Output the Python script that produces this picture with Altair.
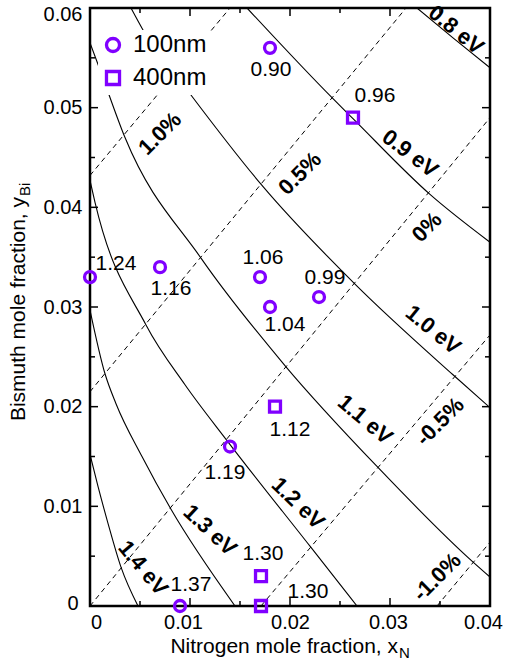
import altair as alt
import pandas as pd

PURPLE = "#8000ff"
FONT = "Liberation Sans"

# ---------------- data ----------------
# 100 nm samples (circles)
x100 = [0.0, 0.007, 0.017, 0.018, 0.0229, 0.018, 0.014, 0.009]
y100 = [0.033, 0.034, 0.033, 0.030, 0.031, 0.056, 0.016, 0.0]
t100 = ["1.24", "1.16", "1.06", "1.04", "0.99", "0.90", "1.19", "1.37"]
# 400 nm samples (squares)
x400 = [0.0263, 0.0185, 0.0171, 0.0171]
y400 = [0.049, 0.020, 0.003, 0.0]
t400 = ["0.96", "1.12", "1.30", "1.30"]

# band-gap contours (solid)
eg_names = ["0.8 eV", "0.9 eV", "1.0 eV", "1.1 eV", "1.2 eV", "1.3 eV", "1.4 eV"]
eg_x = [
    [0.0327, 0.0363, 0.0400],
    [0.0157, 0.0243, 0.0263, 0.0340, 0.0400],
    [0.0041, 0.0053, 0.0100, 0.0172, 0.0266, 0.0363, 0.0400],
    [0.0, 0.0010, 0.0035, 0.0111, 0.0196, 0.0287, 0.0382, 0.0400],
    [0.0, 0.0005, 0.0056, 0.0095, 0.0137, 0.0220, 0.0267],
    [0.0, 0.0015, 0.0026, 0.0052, 0.0081, 0.0145],
    [0.0, 0.0008, 0.0018, 0.0031, 0.0048],
]
eg_y = [
    [0.0600, 0.0570, 0.0540],
    [0.0600, 0.0509, 0.0489, 0.0413, 0.0365],
    [0.0600, 0.0578, 0.0514, 0.0422, 0.0322, 0.0232, 0.0199],
    [0.0565, 0.0538, 0.0470, 0.0349, 0.0240, 0.0140, 0.0045, 0.0029],
    [0.0427, 0.0405, 0.0282, 0.0222, 0.0166, 0.0060, 0.0],
    [0.0297, 0.0233, 0.0203, 0.0150, 0.0097, 0.0],
    [0.0152, 0.0120, 0.0083, 0.0039, 0.0],
]
# band-gap label anchors
eg_lab_x = [0.0366, 0.0320, 0.0343, 0.0275, 0.0208, 0.0120, 0.0053]
eg_lab_y = [0.0578, 0.0454, 0.0277, 0.0187, 0.0103, 0.0076, 0.0038]

# strain lines (dashed): endpoints
st_names = ["1.0%", "0.5%", "0%", "-0.5%", "-1.0%"]
st_x0 = [0.0, 0.0, 0.0, 0.0171, 0.0347]
st_y0 = [0.0432, 0.0215, 0.0, 0.0, 0.0]
st_x1 = [0.0140, 0.0316, 0.0400, 0.0400, 0.0400]
st_y1 = [0.0600, 0.0600, 0.0490, 0.0272, 0.0064]
# strain label anchors
st_lab_x = [0.0070, 0.0210, 0.0337, 0.0350, 0.0347]
st_lab_y = [0.0474, 0.0434, 0.0380, 0.0185, 0.0029]

x_major = [0.0, 0.01, 0.02, 0.03, 0.04]
x_minor = [0.005, 0.015, 0.025, 0.035]
y_major = [0.0, 0.01, 0.02, 0.03, 0.04, 0.05, 0.06]
y_minor = [0.005, 0.015, 0.025, 0.035, 0.045, 0.055]

x_title = "Nitrogen mole fraction, x"
x_sub = "N"
y_title = "Bismuth mole fraction, y"
y_sub = "Bi"

# ---------------- styles ----------------
W, H = 400, 598
# text offsets (dx, dy) for the sample labels
off100 = [(26, -13), (11, 22), (3, -19), (15, 18), (6, -19), (1, 22), (-5, 26), (11, -21)]
off400 = [(22, -22), (15, 23), (2, -22), (47, -14)]
eg_angles = [39, 37, 39, 40, 44, 43, 50]
st_angles = [315, 315, 315, 315, 315]
LBL = 21      # sample label font size
CLBL = 22     # contour label font size

xs = alt.Scale(domain=[0, 0.04], nice=False, zero=False)
ys = alt.Scale(domain=[0, 0.06], nice=False, zero=False)
lab_expr = "datum.value == 0 ? '0' : format(datum.value, '.2f')"
x_label_offset = {
    "condition": [
        {"test": "datum.value == 0", "value": 6},
        {"test": "abs(datum.value - 0.01) < 0.001", "value": -7},
        {"test": "abs(datum.value - 0.03) < 0.001", "value": -2},
        {"test": "abs(datum.value - 0.04) < 0.001", "value": -7},
    ],
    "value": 0,
}
y_label_offset = {
    "condition": [
        {"test": "abs(datum.value - 0.06) < 0.001", "value": 6},
        {"test": "datum.value == 0", "value": -3},
    ],
    "value": 0,
}
y_label_padding = {
    "condition": [{"test": "datum.value == 0", "value": 12}],
    "value": 8,
}
xaxis = alt.Axis(values=x_major, labelExpr=lab_expr, ticks=False, domain=False, grid=False,
                 title=None, labelFontSize=20, labelFont=FONT, labelColor="black", labelPadding=6,
                 labelFlush=False, labelOffset=x_label_offset)
yaxis = alt.Axis(values=y_major, labelExpr=lab_expr, ticks=False, domain=False, grid=False,
                 title=None, labelFontSize=20, labelFont=FONT, labelColor="black",
                 labelPadding=y_label_padding, labelFlush=False, labelOffset=y_label_offset)


def X(f):
    return alt.X(f, type="quantitative", scale=xs, axis=xaxis)


def Y(f):
    return alt.Y(f, type="quantitative", scale=ys, axis=yaxis)


layers = []

# band-gap curves
rows = []
for n, xx, yy in zip(eg_names, eg_x, eg_y):
    for a, b in zip(xx, yy):
        rows.append({"name": n, "x": a, "y": b})
eg_df = pd.DataFrame(rows)
layers.append(
    alt.Chart(eg_df).mark_line(color="black", strokeWidth=1.1, interpolate="monotone", clip=True)
    .encode(x=X("x"), y=Y("y"), detail="name:N")
)

# strain lines
rows = []
for n, a0, b0, a1, b1 in zip(st_names, st_x0, st_y0, st_x1, st_y1):
    rows.append({"name": n, "x": a0, "y": b0})
    rows.append({"name": n, "x": a1, "y": b1})
st_df = pd.DataFrame(rows)
layers.append(
    alt.Chart(st_df).mark_line(color="black", strokeWidth=1, strokeDash=[5, 4], clip=True)
    .encode(x=X("x"), y=Y("y"), detail="name:N")
)

# inward ticks on all four sides
for vals, ln in ((x_major, 8), (x_minor, 5)):
    d = pd.DataFrame({"v": vals})
    layers.append(alt.Chart(d).mark_rule(color="black", strokeWidth=1.5)
                  .encode(x=X("v"), y=alt.value(H), y2=alt.value(H - ln)))
    layers.append(alt.Chart(d).mark_rule(color="black", strokeWidth=1.5)
                  .encode(x=X("v"), y=alt.value(0), y2=alt.value(ln)))
for vals, ln in ((y_major, 8), (y_minor, 5)):
    d = pd.DataFrame({"v": vals})
    layers.append(alt.Chart(d).mark_rule(color="black", strokeWidth=1.5)
                  .encode(y=Y("v"), x=alt.value(0), x2=alt.value(ln)))
    layers.append(alt.Chart(d).mark_rule(color="black", strokeWidth=1.5)
                  .encode(y=Y("v"), x=alt.value(W), x2=alt.value(W - ln)))

# sample points
pts = pd.DataFrame({
    "x": x100 + x400,
    "y": y100 + y400,
    "film": ["100nm"] * len(x100) + ["400nm"] * len(x400),
})
layers.append(
    alt.Chart(pts).mark_point(filled=False, strokeWidth=3.3, size=120, color=PURPLE, opacity=1)
    .encode(
        x=X("x"), y=Y("y"),
        shape=alt.Shape("film:N",
                        scale=alt.Scale(domain=["100nm", "400nm"], range=["circle", "square"]),
                        legend=alt.Legend(orient="none", legendX=8, legendY=22, title=None,
                                          labelFontSize=24, labelFont=FONT, labelColor="black",
                                          symbolSize=170, symbolStrokeWidth=3.3,
                                          symbolStrokeColor=PURPLE, symbolFillColor="transparent",
                                          labelOffset=8, rowPadding=5, padding=3,
                                          fillColor="white")),
    )
)

# sample labels
for xx, yy, tt, offs in ((x100, y100, t100, off100), (x400, y400, t400, off400)):
    for a, b, t, (dx, dy) in zip(xx, yy, tt, offs):
        d = pd.DataFrame({"x": [a], "y": [b], "t": [t]})
        layers.append(
            alt.Chart(d).mark_text(dx=dx, dy=dy, fontSize=LBL, font=FONT, color="black",
                                   align="center", baseline="middle")
            .encode(x=X("x"), y=Y("y"), text="t:N")
        )

# contour labels
for n, a, b, ang in zip(eg_names, eg_lab_x, eg_lab_y, eg_angles):
    d = pd.DataFrame({"x": [a], "y": [b], "t": [n]})
    layers.append(
        alt.Chart(d).mark_text(angle=ang, fontSize=CLBL, fontWeight="bold", font=FONT, color="black",
                               align="center", baseline="middle")
        .encode(x=X("x"), y=Y("y"), text="t:N")
    )
for n, a, b, ang in zip(st_names, st_lab_x, st_lab_y, st_angles):
    d = pd.DataFrame({"x": [a], "y": [b], "t": [n]})
    layers.append(
        alt.Chart(d).mark_text(angle=ang, fontSize=CLBL, fontWeight="bold", font=FONT, color="black",
                               align="center", baseline="middle")
        .encode(x=X("x"), y=Y("y"), text="t:N")
    )

# axis titles with subscripts
layers.append(
    alt.Chart(pd.DataFrame({"t": [x_title]})).mark_text(fontSize=21, font=FONT, color="black",
                                                         align="right", baseline="alphabetic")
    .encode(x=alt.value(308), y=alt.value(645), text="t:N")
)
layers.append(
    alt.Chart(pd.DataFrame({"t": [x_sub]})).mark_text(fontSize=15, font=FONT, color="black",
                                                       align="left", baseline="alphabetic", dx=1, dy=5)
    .encode(x=alt.value(308), y=alt.value(645), text="t:N")
)
layers.append(
    alt.Chart(pd.DataFrame({"t": [y_title]})).mark_text(angle=270, fontSize=21, font=FONT, color="black",
                                                         align="right", baseline="alphabetic")
    .encode(x=alt.value(-65), y=alt.value(189), text="t:N")
)
layers.append(
    alt.Chart(pd.DataFrame({"t": [y_sub]})).mark_text(angle=270, fontSize=15, font=FONT, color="black",
                                                       align="left", baseline="alphabetic", dx=1, dy=5)
    .encode(x=alt.value(-65), y=alt.value(189), text="t:N")
)

chart = alt.layer(*layers).properties(
    width=W, height=H,
    padding={"left": 90, "top": 8, "right": 15, "bottom": 56},
    autosize=alt.AutoSizeParams(type="none"),
    background="white",
).configure_view(stroke="black", strokeWidth=2.5)

chart.save("out.html", embed_options={"renderer": "svg", "actions": False})
